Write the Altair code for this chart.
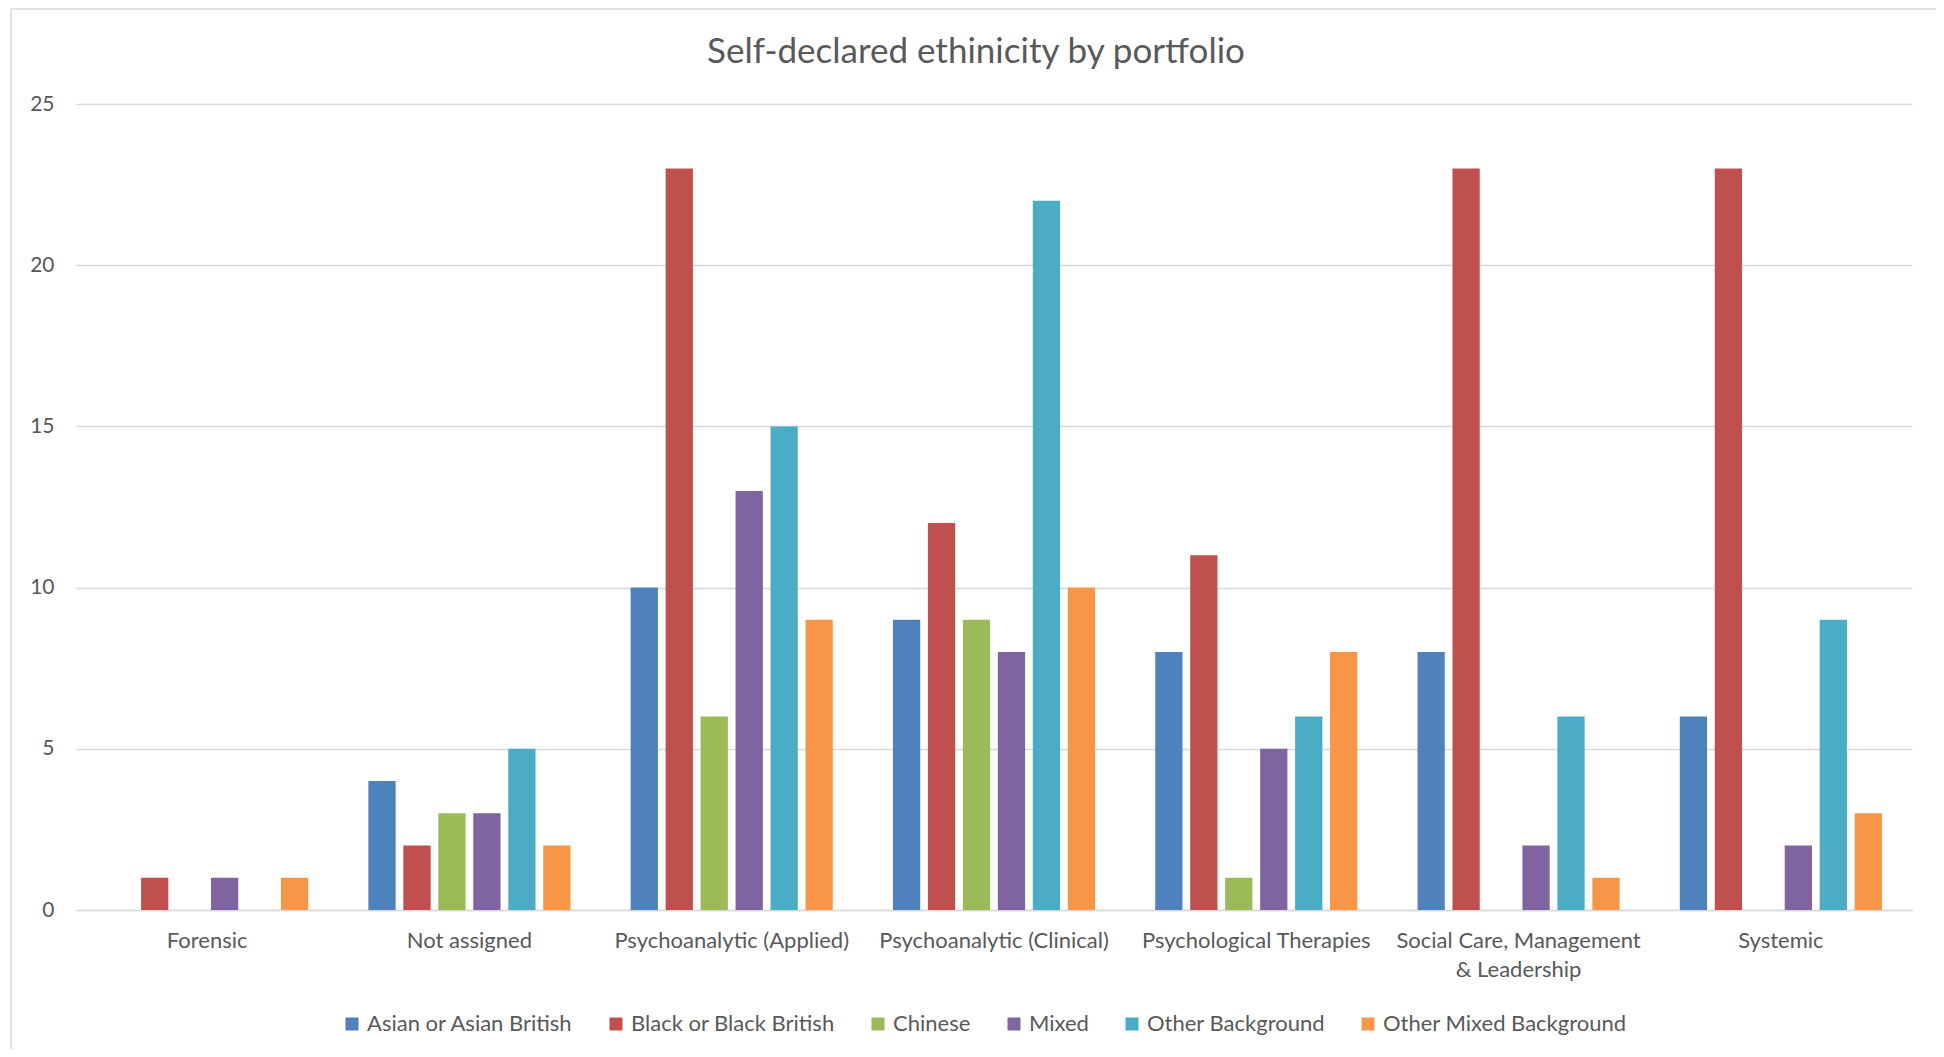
import altair as alt
import pandas as pd

title_text = "Self-declared ethinicity by portfolio"
portfolios = [
    "Forensic",
    "Not assigned",
    "Psychoanalytic (Applied)",
    "Psychoanalytic (Clinical)",
    "Psychological Therapies",
    "Social Care, Management & Leadership",
    "Systemic",
]
groups = [
    "Asian or Asian British",
    "Black or Black British",
    "Chinese",
    "Mixed",
    "Other Background",
    "Other Mixed Background",
]
asian = [0, 4, 10, 9, 8, 8, 6]
black = [1, 2, 23, 12, 11, 23, 23]
chinese = [0, 3, 6, 9, 1, 0, 0]
mixed = [1, 3, 13, 8, 5, 2, 2]
other = [0, 5, 15, 22, 6, 6, 9]
other_mixed = [1, 2, 9, 10, 8, 1, 3]
colors = ["#4F81BD", "#C0504D", "#9BBB59", "#8064A2", "#4BACC6", "#F79646"]
y_ticks = [0, 5, 10, 15, 20, 25]

series = [asian, black, chinese, mixed, other, other_mixed]
rows = []
for g, vals in zip(groups, series):
    for p, v in zip(portfolios, vals):
        rows.append({"Portfolio": p, "Group": g, "Count": v})
df = pd.DataFrame(rows)

FONT = "Lato"
GREY = "#595959"

bars = alt.Chart(df).mark_bar().encode(
    x=alt.X(
        "Portfolio:N",
        sort=portfolios,
        title=None,
        scale=alt.Scale(paddingInner=0.2, paddingOuter=0.1),
        axis=alt.Axis(
            labelAngle=0,
            labelFontSize=22,
            labelColor=GREY,
            labelFont=FONT,
            labelPadding=20,
            labelLimit=0,
            ticks=False,
            tickSize=0,
            domainColor="#D9D9D9",
            domainWidth=1.5,
            labelLineHeight=29,
            labelExpr="datum.label == 'Social Care, Management & Leadership' ? ['Social Care, Management', '& Leadership'] : datum.label",
        ),
    ),
    xOffset=alt.XOffset(
        "Group:N",
        sort=groups,
        scale=alt.Scale(paddingInner=0.22, paddingOuter=0.11),
    ),
    y=alt.Y(
        "Count:Q",
        title=None,
        scale=alt.Scale(domain=[0, 25], nice=False),
        axis=alt.Axis(
            values=y_ticks,
            labelFontSize=21,
            labelColor=GREY,
            labelFont=FONT,
            labelPadding=22,
            ticks=False,
            tickSize=0,
            domain=False,
            gridColor="#D9D9D9",
            gridWidth=1.3,
        ),
    ),
    color=alt.Color(
        "Group:N",
        sort=groups,
        scale=alt.Scale(domain=groups, range=colors),
        legend=alt.Legend(
            title=None,
            orient="none",
            direction="horizontal",
            legendX=265,
            legendY=909,
            symbolType="square",
            symbolSize=169,
            symbolStrokeWidth=0,
            labelFontSize=22,
            labelFont=FONT,
            labelColor=GREY,
            labelLimit=0,
            labelOffset=4,
            columnPadding=32,
        ),
    ),
)

border = alt.Chart(alt.Data(values=[{"a": 1}])).mark_rect(
    fillOpacity=0, stroke="#D9D9D9", strokeWidth=1.5
).encode(
    x=alt.value(-65),
    x2=alt.value(1864),
    y=alt.value(-95),
    y2=alt.value(960),
)

title = alt.Chart(alt.Data(values=[{"t": title_text}])).mark_text(
    font=FONT, fontSize=35, color=GREY, align="center", baseline="middle"
).encode(
    text="t:N",
    x=alt.value(900),
    y=alt.value(-52),
)

chart = alt.layer(border, title, bars).properties(
    width=1836,
    height=806,
    autosize=alt.AutoSizeParams(type="none"),
    padding={"left": 68, "top": 96, "right": 24, "bottom": 139},
).configure_view(stroke=None)

chart.save("out.html", embed_options={"renderer": "svg", "actions": False})
